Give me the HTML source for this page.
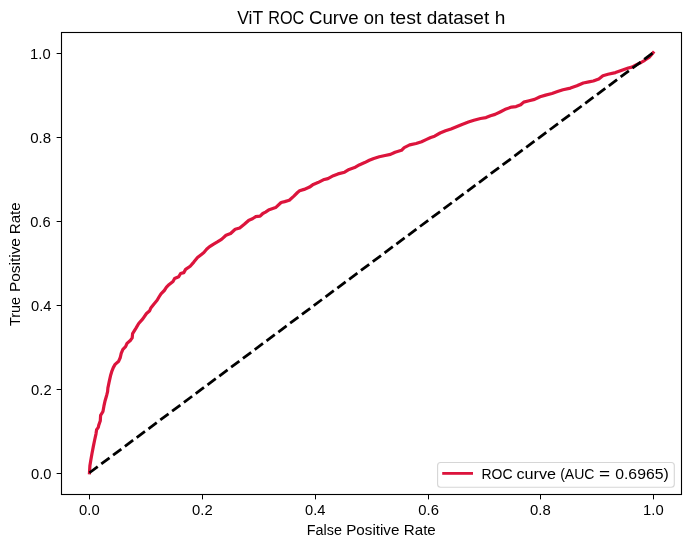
<!DOCTYPE html>
<html><head><meta charset="utf-8"><style>
html,body{margin:0;padding:0;background:#fff;}
svg{display:block;will-change:transform;font-family:"Liberation Sans",sans-serif;}
</style></head><body>
<svg width="691" height="547" viewBox="0 0 691 547">
<rect x="0" y="0" width="691" height="547" fill="#fff"/>
<polyline points="89.48,472.76 89.90,465.80 90.80,460.30 91.90,453.90 93.30,446.60 94.60,440.20 96.00,433.80 96.60,429.70 98.30,427.40 98.70,425.40 100.30,420.80 100.60,415.30 102.90,411.70 103.90,406.20 105.10,400.70 106.70,395.20 107.60,391.60 107.90,387.90 108.40,385.60 109.10,382.10 110.50,375.80 111.70,371.70 113.30,367.60 115.10,364.40 118.70,361.20 120.30,357.50 121.20,353.40 122.90,349.30 125.60,346.60 127.00,343.40 130.60,340.20 132.20,337.90 132.60,333.60 136.00,328.10 138.70,323.50 142.80,318.90 146.50,313.50 149.70,310.70 150.80,308.00 153.80,304.20 157.10,300.30 159.30,296.50 161.00,293.80 164.30,290.50 166.50,287.20 169.20,284.40 173.00,281.40 174.60,278.50 178.70,276.70 180.60,273.50 183.80,272.60 185.60,269.40 190.20,266.20 193.80,262.10 197.50,257.50 201.10,254.70 203.90,252.50 206.60,249.30 209.30,246.90 213.20,244.40 217.80,241.70 221.50,239.40 226.00,235.30 230.60,233.50 235.20,229.30 239.70,228.00 244.30,224.30 248.90,220.20 252.50,218.80 255.50,216.70 260.10,216.20 262.80,213.50 265.50,212.10 269.20,209.70 275.60,207.60 281.10,202.50 284.70,201.60 289.30,200.30 293.90,196.10 297.50,192.50 299.60,190.80 304.10,189.40 309.60,187.10 313.30,184.40 317.90,182.60 323.30,179.80 327.90,178.60 333.40,175.70 338.00,173.90 344.60,172.20 349.10,169.40 354.60,167.60 359.20,164.90 364.70,162.60 369.30,160.30 373.80,158.50 379.30,156.80 383.90,155.70 390.50,154.40 395.10,152.20 401.50,150.30 404.20,147.60 409.70,144.90 416.10,143.50 421.60,141.70 426.10,139.60 430.70,137.50 434.60,136.20 440.10,133.00 445.50,130.80 451.00,128.90 456.50,126.70 462.00,124.40 468.40,122.10 473.90,120.30 480.50,118.50 486.00,117.60 490.50,115.80 495.10,114.40 500.60,111.70 506.10,108.90 511.60,107.10 516.10,106.60 520.70,104.80 523.70,102.10 529.10,100.80 534.60,99.40 540.10,96.70 545.60,95.10 552.00,93.50 557.50,91.60 563.00,89.80 570.50,88.10 576.90,85.80 583.30,83.00 588.80,81.90 593.30,81.00 598.80,78.90 602.90,75.70 608.00,74.30 615.50,72.60 621.90,70.30 628.30,68.00 631.90,67.10 636.50,64.60 641.10,62.50 644.70,60.30 649.30,57.10 653.12,52.76" fill="none" stroke="#dc143c" stroke-width="3.2" stroke-linejoin="round" stroke-linecap="square"/>
<line x1="89.48" y1="472.76" x2="653.12" y2="52.76" stroke="#000" stroke-width="2.78" stroke-dasharray="10.28 4.44"/>
<rect x="61.5" y="32.5" width="620.0" height="462.0" fill="none" stroke="#000" stroke-width="1.11"/>
<g stroke="#000" stroke-width="1"><line x1="89.5" y1="494.5" x2="89.5" y2="499.36"/><line x1="61.5" y1="473.5" x2="56.64" y2="473.5"/><line x1="202.5" y1="494.5" x2="202.5" y2="499.36"/><line x1="61.5" y1="389.5" x2="56.64" y2="389.5"/><line x1="315.5" y1="494.5" x2="315.5" y2="499.36"/><line x1="61.5" y1="305.5" x2="56.64" y2="305.5"/><line x1="428.5" y1="494.5" x2="428.5" y2="499.36"/><line x1="61.5" y1="221.5" x2="56.64" y2="221.5"/><line x1="540.5" y1="494.5" x2="540.5" y2="499.36"/><line x1="61.5" y1="137.5" x2="56.64" y2="137.5"/><line x1="653.5" y1="494.5" x2="653.5" y2="499.36"/><line x1="61.5" y1="53.5" x2="56.64" y2="53.5"/></g>
<rect x="437.6" y="462.5" width="236.7" height="24.7" rx="3" ry="3" fill="#fff" fill-opacity="0.8" stroke="#cccccc" stroke-opacity="0.8" stroke-width="1.11"/>
<line x1="443.6" y1="473.4" x2="471.6" y2="473.4" stroke="#dc143c" stroke-width="2.78" stroke-linecap="square"/>
<g fill="#000"><text transform="translate(237.18,23.6) scale(0.9961,1)" font-size="17.6">ViT</text><text transform="translate(268.22,23.6) scale(0.9220,1)" font-size="17.6">ROC</text><text transform="translate(308.97,23.6) scale(1.0586,1)" font-size="17.6">Curve</text><text transform="translate(363.71,23.6) scale(1.0496,1)" font-size="17.6">on</text><text transform="translate(389.92,23.6) scale(1.1107,1)" font-size="17.6">test</text><text transform="translate(426.79,23.6) scale(1.0813,1)" font-size="17.6">dataset</text><text transform="translate(494.74,23.6) scale(1.0847,1)" font-size="17.6">h</text><text transform="translate(306.77,534.7) scale(0.9837,1)" font-size="14.6">False</text><text transform="translate(346.20,534.7) scale(1.0416,1)" font-size="14.6">Positive</text><text transform="translate(403.80,534.7) scale(1.0379,1)" font-size="14.6">Rate</text><text transform="translate(481.50,478.7) scale(0.9567,1)" font-size="14.6">ROC</text><text transform="translate(516.41,478.7) scale(1.1084,1)" font-size="14.6">curve</text><text transform="translate(560.16,478.7) scale(0.9635,1)" font-size="14.6">(AUC</text><text transform="translate(599.12,478.7) scale(1.3000,1)" font-size="14.6">=</text><text transform="translate(615.22,478.7) scale(1.0812,1)" font-size="14.6">0.6965)</text><text transform="translate(19.9,326.07) rotate(-90) scale(0.9860,1)" font-size="14.6">True</text><text transform="translate(19.9,292.02) rotate(-90) scale(1.0558,1)" font-size="14.6">Positive</text><text transform="translate(19.9,234.19) rotate(-90) scale(1.0345,1)" font-size="14.6">Rate</text><text transform="translate(79.07,514.7) scale(1.0144,1)" font-size="14.6">0.0</text><text transform="translate(31.07,478.8) scale(1.0092,1)" font-size="14.6">0.0</text><text transform="translate(192.06,514.7) scale(1.0172,1)" font-size="14.6">0.2</text><text transform="translate(31.07,394.8) scale(1.0119,1)" font-size="14.6">0.2</text><text transform="translate(305.07,514.7) scale(1.0078,1)" font-size="14.6">0.4</text><text transform="translate(30.97,310.8) scale(1.0078,1)" font-size="14.6">0.4</text><text transform="translate(418.27,514.7) scale(1.0158,1)" font-size="14.6">0.6</text><text transform="translate(30.17,226.8) scale(1.0053,1)" font-size="14.6">0.6</text><text transform="translate(530.06,514.7) scale(1.0211,1)" font-size="14.6">0.8</text><text transform="translate(30.16,142.8) scale(1.0316,1)" font-size="14.6">0.8</text><text transform="translate(643.06,514.7) scale(1.0148,1)" font-size="14.6">1.0</text><text transform="translate(30.06,58.8) scale(1.0148,1)" font-size="14.6">1.0</text></g>
</svg>
</body></html>
